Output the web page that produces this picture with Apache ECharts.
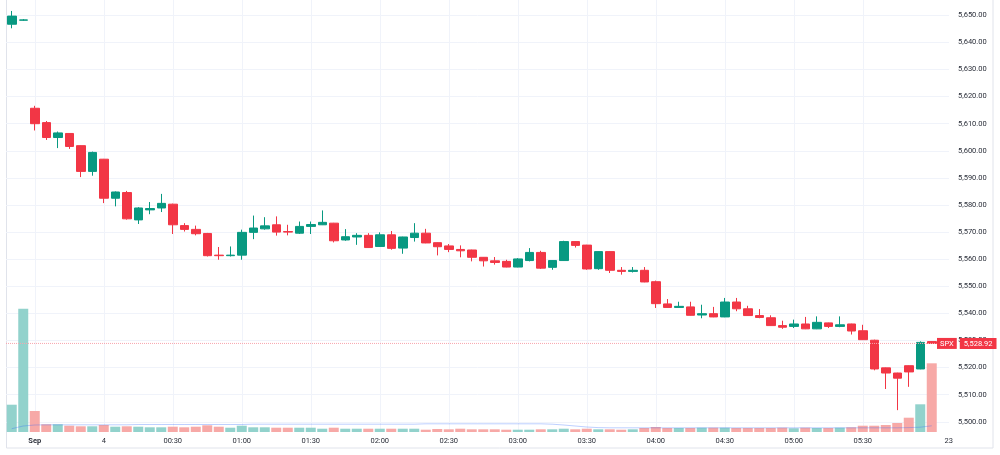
<!DOCTYPE html>
<html>
<head>
<meta charset="utf-8">
<title>SPX 5m</title>
<script src="https://cdn.jsdelivr.net/npm/echarts@6/dist/echarts.min.js"></script>
<style>
  html, body { margin: 0; padding: 0; background: #fff; }
  #main { width: 1000px; height: 455px; }
</style>
</head>
<body>
<div id="main"></div>
<script>
// candle values (one candle per slot)
var opens = [5646.7, 5648.2, 5615.7, 5610.4, 5604.9, 5606.4, 5601.9, 5592.4, 5596.9, 5582.5,
  5584.6, 5574.5, 5578.2, 5578.9, 5580.3, 5572.4, 5571.0, 5569.5, 5561.5, 5561.3,
  5561.5, 5569.9, 5571.2, 5572.7, 5570.2, 5569.6, 5572.1, 5572.7, 5573.3, 5567.1,
  5568.2, 5568.8, 5564.7, 5569.0, 5564.1, 5568.0, 5569.6, 5566.1, 5564.9, 5563.6,
  5563.4, 5560.7, 5559.4, 5559.2, 5557.1, 5559.5, 5562.5, 5557.0, 5559.5, 5566.5,
  5565.2, 5556.5, 5562.8, 5555.9, 5555.5, 5555.9, 5551.7, 5543.5, 5542.2, 5542.4,
  5539.4, 5539.9, 5538.7, 5544.2, 5541.7, 5539.2, 5538.4, 5535.5, 5535.2, 5536.1,
  5534.3, 5536.5, 5535.2, 5536.1, 5533.6, 5530.1, 5519.9, 5518.0, 5520.7, 5519.5,
  5529.6];
var closes = [5649.7, 5648.3, 5610.0, 5604.9, 5606.6, 5601.6, 5592.4, 5599.4, 5582.5, 5584.8,
  5574.9, 5578.9, 5578.7, 5580.6, 5572.7, 5571.0, 5569.4, 5561.3, 5561.3, 5561.5,
  5569.9, 5571.5, 5572.3, 5570.0, 5570.0, 5572.1, 5572.8, 5573.6, 5566.8, 5568.3,
  5568.8, 5564.3, 5569.0, 5564.0, 5568.2, 5569.6, 5566.0, 5564.6, 5563.6, 5563.1,
  5560.7, 5559.4, 5558.8, 5557.1, 5560.1, 5562.5, 5556.7, 5559.5, 5566.5, 5565.1,
  5556.4, 5562.8, 5555.9, 5555.5, 5555.9, 5551.6, 5543.6, 5542.2, 5542.6, 5539.3,
  5539.9, 5538.7, 5544.2, 5541.7, 5539.2, 5538.5, 5535.5, 5534.9, 5536.1, 5534.3,
  5536.7, 5535.2, 5535.8, 5533.5, 5530.3, 5519.5, 5518.0, 5516.1, 5518.4, 5529.3,
  5528.92];
var lows = [5645.2, 5648.0, 5607.5, 5604.0, 5601.0, 5600.7, 5590.3, 5590.8, 5580.7, 5579.5,
  5574.6, 5573.0, 5576.6, 5577.4, 5569.3, 5570.2, 5568.8, 5561.0, 5559.8, 5561.0,
  5559.8, 5567.4, 5570.9, 5568.7, 5568.8, 5569.3, 5569.3, 5572.6, 5566.2, 5566.8,
  5565.3, 5564.2, 5564.5, 5563.5, 5562.0, 5566.5, 5565.9, 5561.4, 5562.6, 5560.7,
  5559.2, 5557.3, 5558.0, 5557.0, 5557.0, 5559.2, 5556.4, 5556.1, 5559.4, 5564.3,
  5556.1, 5556.1, 5554.9, 5554.3, 5555.1, 5551.5, 5542.0, 5542.1, 5542.1, 5539.2,
  5538.2, 5538.6, 5538.6, 5540.8, 5539.1, 5538.2, 5535.4, 5534.3, 5534.6, 5534.2,
  5534.2, 5534.6, 5534.9, 5532.2, 5530.2, 5519.0, 5512.1, 5504.3, 5512.9, 5519.4,
  5528.9];
var highs = [5651.6, 5648.6, 5616.6, 5611.0, 5607.1, 5606.5, 5602.0, 5599.7, 5597.0, 5585.0,
  5585.2, 5579.2, 5581.1, 5584.1, 5580.5, 5573.3, 5572.4, 5569.7, 5564.5, 5564.7,
  5570.9, 5576.1, 5575.5, 5575.8, 5572.7, 5573.9, 5573.9, 5578.0, 5573.4, 5571.1,
  5569.6, 5569.6, 5569.9, 5570.4, 5568.3, 5573.3, 5571.2, 5566.2, 5565.6, 5565.1,
  5563.5, 5560.8, 5560.8, 5559.8, 5560.4, 5564.1, 5563.1, 5559.6, 5566.8, 5566.6,
  5565.3, 5562.9, 5562.9, 5557.1, 5557.1, 5557.1, 5552.1, 5545.3, 5544.3, 5544.3,
  5543.2, 5542.4, 5545.7, 5545.7, 5542.8, 5541.6, 5539.3, 5537.3, 5537.7, 5538.7,
  5538.9, 5536.6, 5538.9, 5536.2, 5535.8, 5530.3, 5520.0, 5518.1, 5520.8, 5529.7,
  5529.7];

// volume per candle and its moving average
var volumes = [273, 1233, 210, 77, 77, 63, 57, 57, 70, 53,
  57, 53, 47, 47, 53, 47, 53, 67, 53, 43,
  63, 47, 47, 43, 43, 43, 43, 33, 43, 33,
  33, 33, 33, 33, 33, 33, 23, 30, 27, 33,
  27, 27, 27, 23, 23, 23, 27, 27, 33, 27,
  33, 27, 27, 23, 27, 40, 50, 40, 40, 40,
  43, 43, 43, 40, 40, 40, 40, 43, 37, 43,
  40, 40, 43, 47, 63, 63, 70, 90, 143, 277,
  687];
var volumeMA = [33, 60, 70, 72, 72, 72, 72, 72, 72, 72,
  72, 75, 75, 75, 75, 75, 75, 75, 75, 75,
  75, 78, 78, 78, 78, 78, 78, 78, 78, 78,
  78, 78, 78, 78, 78, 78, 82, 82, 82, 82,
  82, 82, 82, 82, 82, 82, 82, 78, 70, 60,
  50, 44, 42, 42, 42, 42, 42, 42, 42, 42,
  42, 42, 42, 42, 42, 42, 42, 42, 42, 42,
  42, 42, 42, 42, 42, 42, 42, 42, 44, 48,
  62];

// time axis: slot index -> label
var tickIndex = [2, 8, 14, 20, 26, 32, 38, 44, 50, 56, 62, 68, 74, 81];
var tickLabels = ['Sep', '4', '00:30', '01:00', '01:30', '02:00', '02:30', '03:00', '03:30', '04:00', '04:30', '05:00', '05:30', '23'];

var symbolName = 'SPX';
var slotCount = 82;
var categories = [];
for (var i = 0; i < slotCount; i++) categories.push(String(i));

var UP = '#089981', DOWN = '#f23645';
var UP_VOL = '#92d2cc', DOWN_VOL = '#f7a9a7';
var GRID_LINE = '#f0f3fa';
var TEXT = '#2a2e39';
var FONT = 'Roboto';

function fmtPrice(v) {
  return v.toLocaleString('en-US', { minimumFractionDigits: 2, maximumFractionDigits: 2 });
}

var labelMap = {};
tickIndex.forEach(function (idx, k) { labelMap[idx] = tickLabels[k]; });

var candles = opens.map(function (o, i) {
  return [o, closes[i], lows[i], highs[i]];
});
var volData = volumes.map(function (v, i) {
  return { value: v, itemStyle: { color: closes[i] >= opens[i] ? UP_VOL : DOWN_VOL } };
});
var lastClose = closes[closes.length - 1];

var chart = echarts.init(document.getElementById('main'));

var option = {
  animation: false,
  backgroundColor: '#fff',
  textStyle: { fontFamily: FONT },
  graphic: [{
    type: 'rect',
    silent: true,
    z: -10,
    shape: { x: 6.5, y: -2, width: 986.5, height: 450 },
    style: { fill: 'none', stroke: '#e0e3eb', lineWidth: 1 }
  }],
  grid: [
    // price pane
    { left: 6, right: 51, top: 15.3, bottom: 33.2 },
    // whole pane: time axis, vertical lines, volume
    { left: 11.75, right: 56.75, top: 0, bottom: 23 },
    // last price line, same vertical scale as the price pane
    { left: 6, right: 64, top: 15.3, bottom: 33.2 }
  ],
  xAxis: [
    {
      type: 'category', gridIndex: 0, data: categories, boundaryGap: true,
      axisLine: { show: false }, axisTick: { show: false }, axisLabel: { show: false },
      splitLine: { show: false }
    },
    {
      type: 'category', gridIndex: 1, data: categories, boundaryGap: false,
      axisLine: { show: false }, axisTick: { show: false },
      axisLabel: {
        margin: 5,
        fontSize: 7.5,
        color: TEXT,
        fontFamily: FONT,
        interval: function (idx) { return labelMap.hasOwnProperty(idx); },
        formatter: function (val, idx) {
          var t = labelMap[idx] || '';
          if (t === 'Sep') return '{b|' + t + '}';
          if (idx === slotCount - 1) return '{r|' + t + '}';
          return t;
        },
        rich: {
          b: { fontWeight: 'bold', fontSize: 7.5, color: TEXT, fontFamily: FONT },
          r: { padding: [0, 0, 0, 11], fontSize: 7.5, color: TEXT, fontFamily: FONT }
        }
      },
      splitLine: {
        show: true,
        interval: function (idx) { return labelMap.hasOwnProperty(idx) && idx < slotCount - 1; },
        lineStyle: { color: GRID_LINE, width: 1 }
      }
    },
    { type: 'value', gridIndex: 2, min: 0, max: 1, show: false, splitLine: { show: false } }
  ],
  yAxis: [
    {
      type: 'value', gridIndex: 0, position: 'right',
      min: 5500, max: 5650, interval: 10,
      axisLine: { show: false }, axisTick: { show: false },
      axisLabel: {
        margin: 9, fontSize: 7.5, color: TEXT, fontFamily: FONT,
        formatter: fmtPrice
      },
      splitLine: { show: true, lineStyle: { color: GRID_LINE, width: 1 } }
    },
    {
      type: 'value', gridIndex: 1, min: 0, max: 4320, show: false,
      splitLine: { show: false }
    },
    { type: 'value', gridIndex: 2, min: 5500, max: 5650, show: false, splitLine: { show: false } }
  ],
  series: [
    {
      name: 'Volume', type: 'bar', xAxisIndex: 1, yAxisIndex: 1,
      barWidth: 10, data: volData, z: 1, silent: true
    },
    {
      name: 'Volume MA', type: 'line', xAxisIndex: 1, yAxisIndex: 1,
      data: volumeMA, symbol: 'none', z: 1, silent: true,
      lineStyle: { color: 'rgba(41,98,255,0.3)', width: 1 }
    },
    {
      name: symbolName, type: 'candlestick', xAxisIndex: 0, yAxisIndex: 0,
      data: candles, barWidth: 9, clip: false, z: 3,
      itemStyle: {
        color: UP, color0: DOWN,
        borderColor: UP, borderColor0: DOWN,
        borderWidth: 1
      }
    },
    {
      // last price line across the pane, with the symbol and price tags
      name: 'Last', type: 'line', xAxisIndex: 2, yAxisIndex: 2,
      data: [[0, lastClose], [1, lastClose]],
      symbol: 'none', z: 4, silent: true,
      lineStyle: { color: '#f8a5ad', type: [1, 1], width: 1 },
      endLabel: {
        show: true,
        distance: 1,
        formatter: '{a|' + symbolName + '}{s|}{b|' + fmtPrice(lastClose) + '}',
        rich: {
          a: { backgroundColor: DOWN, color: '#fff', fontSize: 7.5, fontFamily: FONT, padding: [2, 3, 1, 3] },
          s: { width: 3 },
          b: { backgroundColor: DOWN, color: '#fff', fontSize: 7.5, fontFamily: FONT, padding: [2, 4, 1, 4] }
        }
      }
    }
  ]
};

chart.setOption(option);
</script>
</body>
</html>
